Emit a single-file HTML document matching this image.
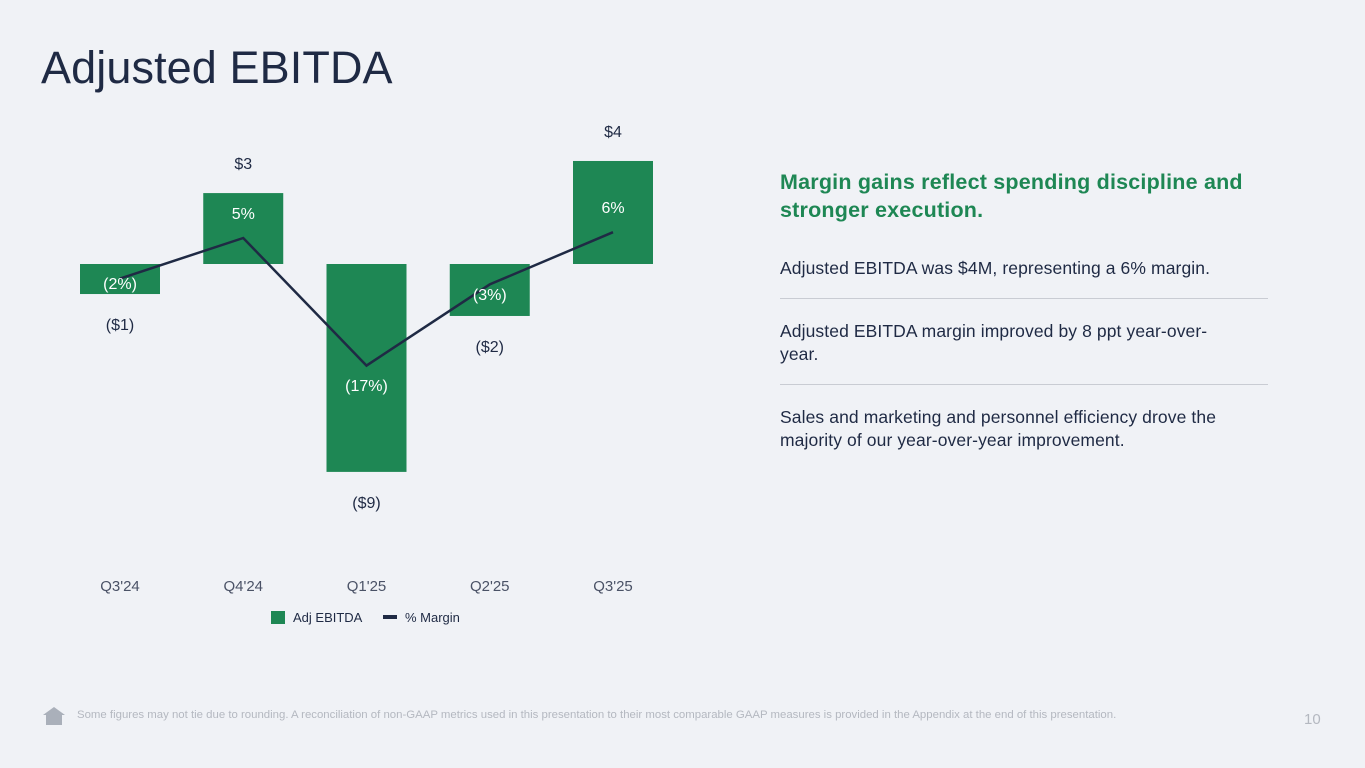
<!DOCTYPE html>
<html><head><meta charset="utf-8"><style>
body{margin:0;width:1365px;height:768px;background:#f0f2f6;font-family:"Liberation Sans",sans-serif;position:relative;overflow:hidden;color:#1f2a44}
h1{position:absolute;left:41px;top:42px;margin:0;font-size:45px;font-weight:400;color:#1f2a44;letter-spacing:0.1px}
.side{position:absolute;left:780px;width:480px}
.hl{top:168px;font-size:21.5px;font-weight:700;color:#1e8754;line-height:28px;letter-spacing:0.2px}
.p{font-size:17.5px;line-height:23px;color:#1f2a44;letter-spacing:0.1px;width:455px}
.rule{position:absolute;left:780px;width:488px;height:1px;background:#c9ccd3}
.foot{position:absolute;left:77px;top:709px;font-size:11.4px;color:#b4b8c0}
.pg{position:absolute;left:1304px;top:711px;font-size:15px;color:#b4b8c0}
</style></head><body>
<h1>Adjusted EBITDA</h1>
<svg id="chart" width="700" height="660" style="position:absolute;left:0;top:0" font-family="Liberation Sans, sans-serif"></svg>
<div class="side hl">Margin gains reflect spending discipline and stronger execution.</div>
<div class="side p" style="top:257px">Adjusted EBITDA was $4M, representing a 6% margin.</div>
<div class="rule" style="top:298px"></div>
<div class="side p" style="top:320px">Adjusted EBITDA margin improved by 8 ppt year-over-year.</div>
<div class="rule" style="top:384px"></div>
<div class="side p" style="top:406px">Sales and marketing and personnel efficiency drove the majority of our year-over-year improvement.</div>
<svg style="position:absolute;left:42px;top:706px" width="24" height="20"><polygon points="12,1 23,9 20,9 20,19 4,19 4,9 1,9" fill="#aab0ba"/></svg>
<div class="foot">Some figures may not tie due to rounding. A reconciliation of non-GAAP metrics used in this presentation to their most comparable GAAP measures is provided in the Appendix at the end of this presentation.</div>
<div class="pg">10</div>
<script>
const categories=["Q3'24","Q4'24","Q1'25","Q2'25","Q3'25"];
const ebitda=[-1.3,3.07,-9,-2.25,4.46];
const ebitdaLabels=["($1)","$3","($9)","($2)","$4"];
const margin=[-2,5,-17,-3,6];
const marginLabels=["(2%)","5%","(17%)","(3%)","6%"];
const svg=document.getElementById('chart');const NS='http://www.w3.org/2000/svg';
const xC=i=>120+i*123.25;const yB=v=>264-v*23.1;const yM=v=>267-v*5.8;
function mk(t,a,txt){const e=document.createElementNS(NS,t);for(const k in a)e.setAttribute(k,a[k]);if(txt!=null)e.textContent=txt;svg.appendChild(e);return e;}
ebitda.forEach((v,i)=>{
 const r=mk('rect',{x:xC(i)-40,y:Math.min(yB(v),yB(0)),width:80,height:Math.abs(yB(v)-yB(0)),fill:'#1e8754'});
 
 
 const ly=v>=0?yB(v)-24:yB(v)+36;
 const t=mk('text',{x:xC(i),y:ly,'text-anchor':'middle','font-size':16,fill:'#1f2a44'},ebitdaLabels[i]);
 
 
 const c=mk('text',{x:xC(i),y:591,'text-anchor':'middle','font-size':15,fill:'#4a5266'},categories[i]);
 
 
});
const pl=mk('polyline',{points:margin.map((m,i)=>xC(i)+','+yM(m)).join(' '),fill:'none',stroke:'#1f2a44','stroke-width':2.5});


margin.forEach((m,i)=>{
 const barMid=(yB(ebitda[i])+yB(0))/2;
 const cy=m>=0?yM(m)-25:Math.max(yM(m),barMid)+(m<-10?17:4);
 const t=mk('text',{x:xC(i),y:cy+6,'text-anchor':'middle','font-size':16,fill:'#ffffff'},marginLabels[i]);
 
 
});
const l1=mk('rect',{x:271,y:611,width:14,height:13,fill:'#1e8754'});


const l2=mk('text',{x:293,y:622,'font-size':13,fill:'#1f2a44'},'Adj EBITDA');


const l3=mk('rect',{x:383,y:615,width:14,height:4,fill:'#1f2a44'});


const l4=mk('text',{x:405,y:622,'font-size':13,fill:'#1f2a44'},'% Margin');


</script>
</body></html>
